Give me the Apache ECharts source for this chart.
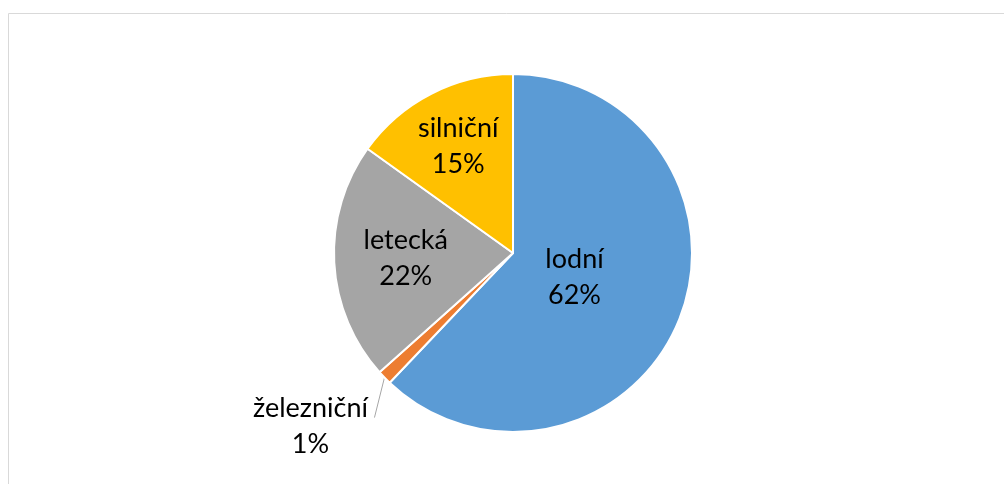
<!DOCTYPE html>
<html>
<head>
<meta charset="utf-8">
<script src="https://cdn.jsdelivr.net/npm/echarts@6/dist/echarts.min.js"></script>
<style>
  html, body { margin: 0; padding: 0; background: #fff; }
  #chart { width: 1004px; height: 484px; }
</style>
</head>
<body>
<div id="chart"></div>
<script>
// podíly druhů dopravy
const categories = ['lodní', 'železniční', 'letecká', 'silniční'];
const shares = [62.1, 1.3, 21.5, 15.1];
const colors = ['#5B9BD5', '#ED7D31', '#A5A5A5', '#FFC000'];

const pieCenter = [513, 253];
const pieRadius = 179;
// vzdálenost popisku od středu (podíl poloměru), jako v Excelu
const labelDist = [0.37, 0, 0.6, 0.67];

const chart = echarts.init(document.getElementById('chart'));

const option = {
  animation: false,
  graphic: [{
    type: 'rect',
    shape: { x: 8.5, y: 13.5, width: 1100, height: 600 },
    style: { fill: 'none', stroke: '#d9d9d9', lineWidth: 1 },
    silent: true
  }],
  series: [{
    type: 'pie',
    center: pieCenter,
    radius: pieRadius,
    startAngle: 90,
    clockwise: true,
    percentPrecision: 0,
    avoidLabelOverlap: false,
    itemStyle: { borderColor: '#fff', borderWidth: 2 },
    label: {
      position: 'inside',
      formatter: '{b}\n{d}%',
      fontFamily: 'Lato',
      fontSize: 27,
      lineHeight: 36,
      color: '#000'
    },
    labelLine: { show: false },
    labelLayout: function (p) {
      const r = p.labelRect;
      const cx = r.x + r.width / 2;
      const cy = r.y + r.height / 2;
      if (p.dataIndex === 1) {
        const pts = p.labelLinePoints;
        const s = pts[0];
        const e = [s[0] - 10, s[1] + 40];
        return {
          x: e[0] - 64,
          y: e[1] + 9,
          align: 'center',
          verticalAlign: 'middle',
          labelLinePoints: [s, e, e]
        };
      }
      const vx = cx - pieCenter[0], vy = cy - pieCenter[1];
      const len = Math.sqrt(vx * vx + vy * vy) || 1;
      const d = labelDist[p.dataIndex] * pieRadius;
      return {
        dx: pieCenter[0] + vx / len * d - cx,
        dy: pieCenter[1] + vy / len * d - cy
      };
    },
    data: categories.map(function (name, i) {
      const item = { name: name, value: shares[i], itemStyle: { color: colors[i] } };
      if (i === 1) {
        item.label = { position: 'outside' };
        item.labelLine = {
          show: true, length: 10, length2: 0,
          lineStyle: { color: '#a6a6a6', width: 1 }
        };
      }
      return item;
    })
  }]
};

chart.setOption(option);
</script>
</body>
</html>
